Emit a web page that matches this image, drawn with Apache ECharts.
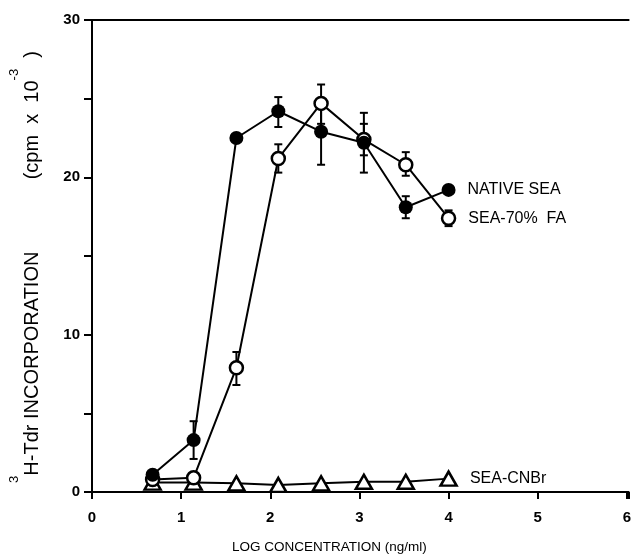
<!DOCTYPE html>
<html>
<head>
<meta charset="utf-8">
<script src="https://cdn.jsdelivr.net/npm/echarts/dist/echarts.min.js"></script>
<style>
  html, body { margin: 0; padding: 0; background: #fff; }
  #chart { width: 634px; height: 559px; }
</style>
</head>
<body>
<div id="chart"></div>
<script>
// log concentration (ng/ml) of each dilution
const concX = [0.68, 1.14, 1.62, 2.09, 2.57, 3.05, 3.52, 4.0];

// 3H-Tdr incorporation, cpm x 10^-3
const nativeSea = [1.1, 3.3, 22.5, 24.2, 22.9, 22.2, 18.1, 19.2];
const nativeLow = [null, 2.1, null, 23.2, 20.8, 20.3, 17.4, null];
const nativeHigh = [null, 4.5, null, 25.1, 24.9, 23.4, 18.8, null];

const fa70 = [0.8, 0.9, 7.9, 21.2, 24.7, 22.4, 20.8, 17.4];
const faLow = [null, null, 6.8, 20.3, 23.4, 21.4, 20.1, 16.9];
const faHigh = [null, null, 8.9, 22.1, 25.9, 24.1, 21.6, 17.9];

const cnbr = [0.6, 0.6, 0.55, 0.45, 0.55, 0.65, 0.65, 0.85];

const xTicks = [0, 1, 2, 3, 4, 5, 6];
const yTicks = [0, 10, 20, 30];

const FONT = '"Liberation Sans", Arial, sans-serif';

// points of a series, with the name written next to the last one
function points(vals, name) {
  return concX.map((x, i) => {
    if (i < concX.length - 1) return [x, vals[i]];
    return {
      value: [x, vals[i]],
      label: {
        show: true,
        position: 'right',
        distance: 12,
        formatter: name,
        color: '#000',
        fontFamily: FONT,
        fontSize: 16
      }
    };
  });
}

// vertical bar with caps, drawn under the symbols
function errorBars(low, high) {
  const data = [];
  concX.forEach((x, i) => {
    if (low[i] != null) data.push([x, low[i], high[i]]);
  });
  return {
    type: 'custom',
    z: 1,
    silent: true,
    encode: { x: 0, y: [1, 2] },
    data: data,
    renderItem: (params, api) => {
      const top = api.coord([api.value(0), api.value(2)]);
      const bot = api.coord([api.value(0), api.value(1)]);
      const w = 4;
      const style = { stroke: '#000', lineWidth: 2 };
      return {
        type: 'group',
        children: [
          { type: 'line', shape: { x1: top[0], y1: top[1], x2: bot[0], y2: bot[1] }, style: style },
          { type: 'line', shape: { x1: top[0] - w, y1: top[1], x2: top[0] + w, y2: top[1] }, style: style },
          { type: 'line', shape: { x1: bot[0] - w, y1: bot[1], x2: bot[0] + w, y2: bot[1] }, style: style }
        ]
      };
    }
  };
}

const chart = echarts.init(document.getElementById('chart'));

const option = {
  animation: false,
  backgroundColor: '#fff',
  grid: { left: 90, right: 0, top: 20, bottom: 66 },
  xAxis: [
    {
      type: 'value',
      min: 0,
      max: 6.02,
      interval: 1,
      name: 'LOG CONCENTRATION (ng/ml)',
      nameLocation: 'middle',
      nameGap: 48,
      nameTextStyle: { color: '#000', fontFamily: FONT, fontSize: 13.5, padding: [0, 62, 0, 0] },
      axisLine: { onZero: false, lineStyle: { color: '#000', width: 2 } },
      axisTick: { show: true, length: 7, lineStyle: { color: '#000', width: 2 } },
      axisLabel: {
        color: '#000',
        fontFamily: FONT,
        fontSize: 15,
        fontWeight: 'bold',
        margin: 18,
        formatter: v => (xTicks.includes(v) ? String(v) : '')
      },
      splitLine: { show: false }
    },
    {
      type: 'value',
      position: 'top',
      min: 0,
      max: 6.02,
      axisLine: { show: true, onZero: false, lineStyle: { color: '#000', width: 2 } },
      axisTick: { show: false },
      axisLabel: { show: false },
      splitLine: { show: false }
    }
  ],
  yAxis: {
    type: 'value',
    min: 0,
    max: 30,
    interval: 10,
    name: '{sup|3}{n|H-Tdr INCORPORATION             (cpm  x  10}{sup|-3}{n|  )}',
    nameLocation: 'middle',
    nameRotate: 90,
    nameGap: 50,
    nameTextStyle: {
      padding: [0, 22, 0, 0],
      rich: {
        n: { color: '#000', fontFamily: FONT, fontSize: 20, lineHeight: 34, verticalAlign: 'bottom' },
        sup: { color: '#000', fontFamily: FONT, fontSize: 13, lineHeight: 34, verticalAlign: 'top' }
      }
    },
    axisLine: { lineStyle: { color: '#000', width: 2 } },
    axisTick: { show: true, length: 8, lineStyle: { color: '#000', width: 2 } },
    minorTick: { show: true, splitNumber: 2, length: 8, lineStyle: { color: '#000', width: 2 } },
    axisLabel: {
      color: '#000',
      fontFamily: FONT,
      fontSize: 15,
      fontWeight: 'bold',
      margin: 12,
      formatter: v => (yTicks.includes(v) ? String(v) : '')
    },
    splitLine: { show: false }
  },
  series: [
    errorBars(faLow, faHigh),
    errorBars(nativeLow, nativeHigh),
    {
      name: 'SEA-CNBr',
      type: 'line',
      z: 2,
      data: points(cnbr, 'SEA-CNBr'),
      symbol: 'triangle',
      symbolSize: [16, 14],
      lineStyle: { color: '#000', width: 2 },
      itemStyle: { color: '#fff', borderColor: '#000', borderWidth: 2.5 }
    },
    {
      name: 'SEA-70% FA',
      type: 'line',
      z: 3,
      data: points(fa70, 'SEA-70%  FA'),
      symbol: 'circle',
      symbolSize: 13,
      lineStyle: { color: '#000', width: 2 },
      itemStyle: { color: '#fff', borderColor: '#000', borderWidth: 2.5 }
    },
    {
      name: 'NATIVE SEA',
      type: 'line',
      z: 4,
      data: points(nativeSea, 'NATIVE SEA'),
      symbol: 'circle',
      symbolSize: 14,
      lineStyle: { color: '#000', width: 2 },
      itemStyle: { color: '#000' }
    }
  ]
};

chart.setOption(option);
</script>
</body>
</html>
